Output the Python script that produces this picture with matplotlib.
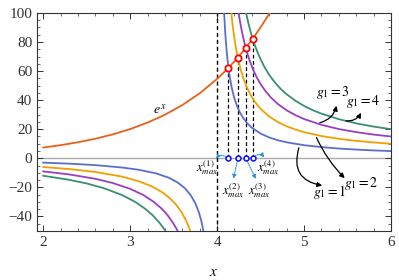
import matplotlib
matplotlib.use("Agg")
import matplotlib.pyplot as plt
from matplotlib.ticker import MultipleLocator

plt.rcParams['font.family'] = ['Liberation Serif', 'DejaVu Serif']
plt.rcParams['mathtext.fontset'] = 'stix'

# e^x curve
exp_x = [2.0, 2.2, 2.4, 2.6, 2.8, 3.0, 3.2, 3.4, 3.6, 3.8, 4.0, 4.1, 4.2, 4.3, 4.4, 4.5, 4.6, 4.62]
exp_y = [7.39, 9.03, 11.02, 13.46, 16.44, 20.09, 24.53, 29.96, 36.60, 44.70, 54.60, 60.34, 66.69, 73.70, 81.45, 90.02, 99.48, 101.5]

# g1 = 1 (blue)
b_xl = [2.0, 2.3, 2.6, 2.9, 3.1, 3.3, 3.45, 3.55, 3.63, 3.70, 3.75, 3.79, 3.82, 3.85]
b_yl = [-3.0, -3.7, -4.7, -6.3, -7.9, -10.4, -13.5, -16.8, -20.6, -25.7, -31.0, -37.1, -43.4, -52.3]
b_xr = [4.08, 4.09, 4.10, 4.11, 4.12, 4.14, 4.16, 4.18, 4.20, 4.23, 4.26, 4.30, 4.35, 4.40, 4.50,
        4.60, 4.70, 4.80, 5.00, 5.20, 5.40, 5.60, 5.80, 6.00]
b_yr = [101.0, 89.9, 81.0, 73.7, 67.7, 58.1, 51.0, 45.4, 41.0, 35.8, 31.8, 27.7, 23.9, 21.0, 17.0,
        14.3, 12.4, 11.0, 9.0, 7.7, 6.7, 6.0, 5.4, 5.0]

# g1 = 2 (orange)
o_xl = [2.0, 2.3, 2.6, 2.9, 3.1, 3.25, 3.37, 3.46, 3.53, 3.59, 3.64, 3.68, 3.70]
o_yl = [-6.0, -7.4, -9.4, -12.5, -15.8, -19.3, -23.4, -27.6, -32.0, -37.0, -42.4, -48.0, -51.3]
o_xr = [4.16, 4.17, 4.18, 4.20, 4.22, 4.24, 4.27, 4.30, 4.34, 4.38, 4.43, 4.50, 4.60, 4.70,
        4.80, 4.90, 5.00, 5.20, 5.40, 5.60, 5.80, 6.00]
o_yr = [102.0, 96.1, 90.9, 82.0, 74.7, 68.7, 61.3, 55.3, 49.1, 44.1, 39.2, 34.0, 28.7, 24.9,
        22.0, 19.8, 18.0, 15.3, 13.4, 12.0, 10.9, 10.0]

# g1 = 3 (purple)
p_xl = [2.0, 2.3, 2.6, 2.8, 3.0, 3.15, 3.27, 3.36, 3.43, 3.49, 3.54, 3.56]
p_yl = [-9.0, -11.1, -14.1, -17.0, -21.0, -25.2, -29.9, -34.5, -39.1, -44.1, -49.2, -51.5]
p_xr = [4.24, 4.25, 4.26, 4.28, 4.30, 4.32, 4.35, 4.38, 4.42, 4.46, 4.50, 4.56, 4.62, 4.70,
        4.80, 4.90, 5.00, 5.20, 5.40, 5.60, 5.80, 6.00]
p_yr = [103.0, 99.0, 95.3, 88.7, 83.0, 78.0, 71.6, 66.2, 60.1, 55.2, 51.0, 45.9, 41.7, 37.3,
        33.0, 29.7, 27.0, 23.0, 20.1, 18.0, 16.3, 15.0]

# g1 = 4 (green)
g_xl = [2.0, 2.3, 2.5, 2.7, 2.9, 3.05, 3.17, 3.26, 3.33, 3.39, 3.42]
g_yl = [-12.0, -14.8, -17.3, -20.6, -25.1, -29.7, -34.6, -39.2, -43.8, -48.5, -51.2]
g_xr = [4.32, 4.33, 4.34, 4.36, 4.38, 4.40, 4.43, 4.46, 4.50, 4.55, 4.60, 4.66, 4.73, 4.80,
        4.90, 5.00, 5.10, 5.20, 5.40, 5.60, 5.80, 6.00]
g_yr = [104.0, 101.0, 98.1, 92.9, 88.2, 84.0, 78.4, 73.6, 68.0, 62.2, 57.3, 52.5, 47.8, 44.0,
        39.6, 36.0, 33.1, 30.7, 26.9, 24.0, 21.8, 20.0]

# intersection points x_max and e^x there
xmax = [4.13, 4.24, 4.33, 4.41]
ymax = [62.2, 69.3, 75.9, 82.2]

c_exp = '#e8601c'
c_blue = '#5a6fcc'
c_orange = '#f2a000'
c_purple = '#9b3fbf'
c_green = '#3a8f70'

fig = plt.figure(figsize=(3.99, 2.80), dpi=100)
ax = fig.add_axes([0.093, 0.175, 0.887, 0.779])

ax.axhline(0, color='#aaaaaa', lw=1.0, zorder=1)
ax.axvline(4, color='black', lw=1.0, ls=(0, (3, 2)), zorder=2)
for xm, ym in zip(xmax, ymax):
    ax.plot([xm, xm], [0, ym], color='black', lw=0.9, ls=(0, (3, 2)), zorder=2)

lw = 1.3
ax.plot(exp_x, exp_y, color=c_exp, lw=lw, zorder=3)
ax.plot(b_xl, b_yl, color=c_blue, lw=lw, zorder=3)
ax.plot(b_xr, b_yr, color=c_blue, lw=lw, zorder=3)
ax.plot(o_xl, o_yl, color=c_orange, lw=lw, zorder=3)
ax.plot(o_xr, o_yr, color=c_orange, lw=lw, zorder=3)
ax.plot(p_xl, p_yl, color=c_purple, lw=lw, zorder=3)
ax.plot(p_xr, p_yr, color=c_purple, lw=lw, zorder=3)
ax.plot(g_xl, g_yl, color=c_green, lw=lw, zorder=3)
ax.plot(g_xr, g_yr, color=c_green, lw=lw, zorder=3)

ax.plot(xmax, ymax, 'o', ms=4.5, mfc='white', mec='red', mew=1.3, zorder=5)
ax.plot(xmax, [0] * 4, 'o', ms=3.5, mfc='white', mec='#1a1aff', mew=1.2, zorder=5)

ax.text(3.34, 33, '$e^x$', fontsize=10, ha='center', va='center')

blk = dict(arrowstyle='-|>', color='black', lw=0.9, mutation_scale=7)
ax.annotate('', xy=(5.38, 38), xytext=(5.15, 24),
            arrowprops=dict(connectionstyle='arc3,rad=0.35', **blk))
ax.annotate('', xy=(5.67, 33), xytext=(5.45, 26),
            arrowprops=dict(connectionstyle='arc3,rad=0.4', **blk))
ax.annotate('', xy=(5.24, -19), xytext=(4.95, 9),
            arrowprops=dict(connectionstyle='arc3,rad=0.6', **blk))
ax.annotate('', xy=(5.49, -15), xytext=(5.13, 16),
            arrowprops=dict(connectionstyle='arc3,rad=0.1', **blk))
ax.text(5.33, 45, '$g_1 = 3$', fontsize=10, ha='center', va='center')
ax.text(5.68, 39, '$g_1 = 4$', fontsize=10, ha='center', va='center')
ax.text(5.30, -23, '$g_1 = 1$', fontsize=10, ha='center', va='center')
ax.text(5.66, -17, '$g_1 = 2$', fontsize=10, ha='center', va='center')

bl = dict(arrowstyle='-|>', color='#2b95d6', lw=0.8, ls=(0, (1, 1)), mutation_scale=6)
ax.annotate('', xy=(3.97, -2), xytext=(4.13, 0),
            arrowprops=dict(connectionstyle='arc3,rad=0.6', **bl))
ax.annotate('', xy=(4.18, -16), xytext=(4.24, 0),
            arrowprops=dict(connectionstyle='arc3,rad=0.0', **bl))
ax.annotate('', xy=(4.46, -16), xytext=(4.33, 0),
            arrowprops=dict(connectionstyle='arc3,rad=0.0', **bl))
ax.annotate('', xy=(4.56, -1), xytext=(4.41, 0),
            arrowprops=dict(connectionstyle='arc3,rad=-0.7', **bl))
ax.text(3.885, -6.5, '$x_{max}^{(1)}$', fontsize=9, ha='center', va='center')
ax.text(4.18, -22, '$x_{max}^{(2)}$', fontsize=9, ha='center', va='center')
ax.text(4.49, -22, '$x_{max}^{(3)}$', fontsize=9, ha='center', va='center')
ax.text(4.59, -6.5, '$x_{max}^{(4)}$', fontsize=9, ha='center', va='center')

ax.set_xlim(1.93, 6.0)
ax.set_ylim(-50, 100)
ax.xaxis.set_major_locator(MultipleLocator(1))
ax.xaxis.set_minor_locator(MultipleLocator(0.2))
ax.yaxis.set_major_locator(MultipleLocator(20))
ax.yaxis.set_minor_locator(MultipleLocator(5))
ax.tick_params(which='both', direction='in', top=True, right=True, labelsize=11, colors='#333333')
ax.tick_params(which='major', length=4, width=0.7)
ax.tick_params(which='minor', length=2, width=0.5)
for s in ax.spines.values():
    s.set_color('#333333')
    s.set_linewidth(0.8)

ax.set_xlabel('$x$', fontsize=11, labelpad=12)

fig.savefig('out.png', dpi=100)
